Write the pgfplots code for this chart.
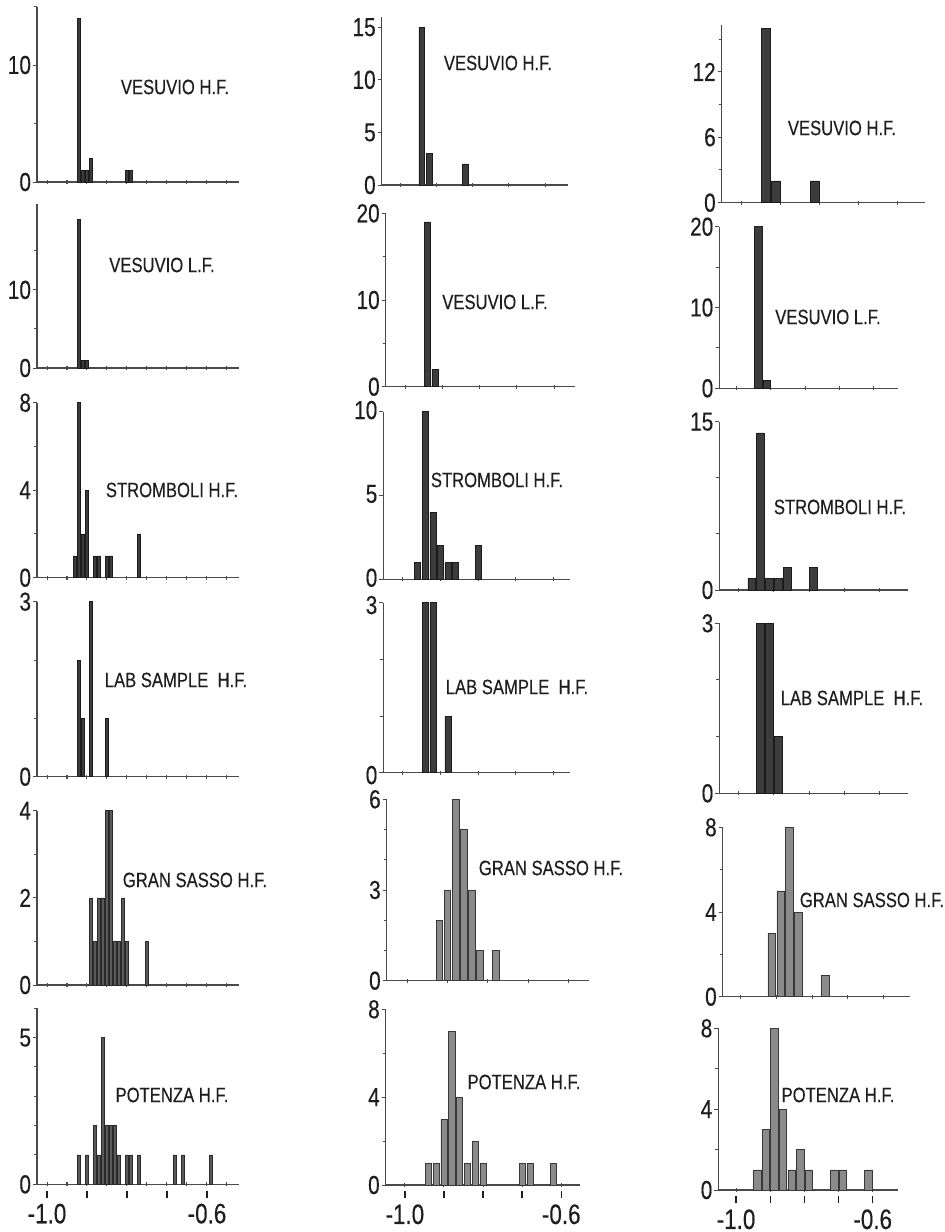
\documentclass[border=0pt]{standalone}
\usepackage{pgfplots}
\pgfplotsset{compat=1.18}
\usepackage{fontspec}
\setmainfont[FakeStretch=0.8, FakeBold=0.35]{Liberation Sans}
\definecolor{dbar}{HTML}{3C3C3C}
\definecolor{dedge}{HTML}{1C1C1C}
\definecolor{mbar}{HTML}{5A5A5A}
\definecolor{medge}{HTML}{2A2A2A}
\definecolor{lbar}{HTML}{8A8A8A}
\definecolor{ledge}{HTML}{383838}
\definecolor{axc}{HTML}{4A4A4A}
\definecolor{txt}{HTML}{1E1E1E}
\newcommand\ticks{\fontsize{13}{13}\selectfont}
\newcommand\lbl{\fontsize{10.4}{11}\selectfont}
\newcommand\xlf{\fontsize{14}{14}\selectfont}
\newcommand\mk{\rule{0.7pt}{3.5pt}}
\newcommand\lab[1]{\shortstack{\mk\\#1}}
\pgfplotsset{
 panel/.style={scale only axis, anchor=south west, ybar, enlargelimits=false, ymin=0,
   axis x line=bottom, axis y line=left,
   axis line style={-, draw=axc, line width=0.6pt},
   every outer x axis line/.append style={-}, every outer y axis line/.append style={-},
   every inner x axis line/.append style={-}, every inner y axis line/.append style={-},
   tick style={draw=axc, line width=0.5pt},
   xtick align=center, ytick align=outside,
   major tick length=2pt, minor tick length=1.5pt,
   yticklabel style={font=\ticks, inner sep=0.8pt, text=txt},
   xticklabel style={font=\xlf, inner sep=2pt, text=txt},
   /pgf/number format/assume math mode=true,
   xticklabels={},
 },
 c1/.style={panel, xmin=-1.025, xmax=-0.52, width=101pt,
   xtick={-1,-0.95,-0.9,-0.85,-0.8,-0.75,-0.7,-0.65,-0.6,-0.55}, bar width=0.0085},
 c2/.style={panel, xtick={-1,-0.9,-0.8,-0.7,-0.6}, bar width=0.016},
 c3/.style={panel, xtick={-1,-0.9,-0.8,-0.7,-0.6}, bar width=0.022},
 dk/.style={fill=dbar, draw=dedge, line width=0.3pt},
 md/.style={fill=mbar, draw=medge, line width=0.3pt},
 lt/.style={fill=lbar, draw=ledge, line width=0.3pt},
}
\begin{document}
\begin{tikzpicture}
\useasboundingbox (0pt,0pt) rectangle (472.5pt,-616pt);
% ---------------- column 1 ----------------
\begin{axis}[c1, at={(18.5pt,-91pt)}, height=87.75pt, ymax=15, ytick={0,10}, minor ytick={5,15}]
\addplot[dk] coordinates {(-0.92,14) (-0.91,1) (-0.90,1) (-0.89,2) (-0.80,1) (-0.79,1)};
\end{axis}
\begin{axis}[c1, at={(18.5pt,-184pt)}, height=82pt, ymax=21, ytick={0,10}, minor ytick={5,15}]
\addplot[dk] coordinates {(-0.92,19) (-0.91,1) (-0.90,1)};
\end{axis}
\begin{axis}[c1, at={(18.5pt,-288.85pt)}, height=87.5pt, ymax=8, ytick={0,4,8}, minor ytick={2,6}]
\addplot[dk] coordinates {(-0.93,1) (-0.92,8) (-0.91,2) (-0.90,4) (-0.88,1) (-0.87,1) (-0.85,1) (-0.84,1) (-0.77,2)};
\end{axis}
\begin{axis}[c1, at={(18.5pt,-388.35pt)}, height=87.5pt, ymax=3, ytick={0,3}, minor ytick={1,2}]
\addplot[dk] coordinates {(-0.92,2) (-0.91,1) (-0.89,3) (-0.85,1)};
\end{axis}
\begin{axis}[c1, at={(18.5pt,-492.5pt)}, height=87.15pt, ymax=4, ytick={0,2,4}, minor ytick={1,3}]
\addplot[md] coordinates {(-0.89,2) (-0.88,1) (-0.87,2) (-0.86,2) (-0.85,4) (-0.84,4) (-0.83,1) (-0.82,1) (-0.81,2) (-0.80,1) (-0.75,1)};
\end{axis}
\begin{axis}[c1, at={(18.5pt,-592.15pt)}, height=88pt, ymax=6, ytick={0,5}, minor ytick={1,2,3,4,6},
  xticklabels={\lab{-1.0},,\mk,,\mk,,\mk,,\lab{-0.6},}]
\addplot[md] coordinates {(-0.92,1) (-0.90,1) (-0.88,2) (-0.87,1) (-0.86,5) (-0.85,2) (-0.84,2) (-0.83,2) (-0.82,1) (-0.80,1) (-0.79,1) (-0.77,1) (-0.68,1) (-0.66,1) (-0.59,1)};
\end{axis}
% ---------------- column 2 ----------------
\begin{axis}[c2, at={(190.85pt,-92.5pt)}, width=93.3pt, height=84.15pt, xmin=-1.0504, xmax=-0.5364, ymax=16, ytick={0,5,10,15}]
\addplot[dk] coordinates {(-0.94,15) (-0.92,3) (-0.82,2)};
\end{axis}
\begin{axis}[c2, at={(192.85pt,-193.35pt)}, width=94.65pt, height=86.7pt, xmin=-1.052, xmax=-0.544, ymax=20, ytick={0,10,20}, minor ytick={5,15}]
\addplot[dk] coordinates {(-0.94,19) (-0.92,2)};
\end{axis}
\begin{axis}[c2, at={(191.65pt,-289.65pt)}, width=93.35pt, height=83.8pt, xmin=-1.0515, xmax=-0.556, ymax=10, ytick={0,5,10},
  yticklabel style={yshift=0.8pt}]
\addplot[dk] coordinates {(-0.96,1) (-0.94,10) (-0.92,4) (-0.90,2) (-0.88,1) (-0.86,1) (-0.80,2)};
\end{axis}
\begin{axis}[c2, at={(191.65pt,-386.35pt)}, width=93.35pt, height=85pt, xmin=-1.0515, xmax=-0.556, ymax=3, ytick={0,3}, minor ytick={1,2},
  yticklabel style={yshift=-1.2pt}]
\addplot[dk] coordinates {(-0.94,3) (-0.92,3) (-0.88,1)};
\end{axis}
\begin{axis}[c2, at={(193.35pt,-490.35pt)}, width=101.3pt, height=90.7pt, xmin=-1.051, xmax=-0.548, ymax=6, ytick={0,3,6}, minor ytick={1,2,4,5}]
\addplot[lt] coordinates {(-0.92,2) (-0.90,3) (-0.88,6) (-0.86,5) (-0.84,3) (-0.82,1) (-0.78,1)};
\end{axis}
\begin{axis}[c2, at={(192.85pt,-592.5pt)}, width=97.15pt, height=87.85pt, xmin=-1.049, xmax=-0.552, ymax=8, ytick={0,4,8}, minor ytick={2,6},
  xticklabels={\lab{-1.0},\mk,\mk,\mk,\lab{-0.6}}]
\addplot[lt] coordinates {(-0.94,1) (-0.92,1) (-0.90,3) (-0.88,7) (-0.86,4) (-0.84,1) (-0.82,2) (-0.80,1) (-0.70,1) (-0.68,1) (-0.62,1)};
\end{axis}
% ---------------- column 3 ----------------
\begin{axis}[c3, at={(360.85pt,-101.35pt)}, width=101.65pt, height=88.85pt, xmin=-1.051, xmax=-0.53, ymax=16.3, ytick={0,6,12}, minor ytick={3,9,15}]
\addplot[dk] coordinates {(-0.9375,16) (-0.9125,2) (-0.8125,2)};
\end{axis}
\begin{axis}[c3, at={(359.65pt,-194.15pt)}, width=89.5pt, height=80.8pt, xmin=-1.051, xmax=-0.527, ymax=20, ytick={0,10,20}, minor ytick={5,15}]
\addplot[dk] coordinates {(-0.9375,20) (-0.9125,1)};
\end{axis}
\begin{axis}[c3, at={(359.65pt,-295pt)}, width=94.5pt, height=84.15pt, xmin=-1.054, xmax=-0.52, ymax=15, ytick={0,15}, minor ytick={5,10}]
\addplot[dk] coordinates {(-0.9625,1) (-0.9375,14) (-0.9125,1) (-0.8875,1) (-0.8625,2) (-0.7875,2)};
\end{axis}
\begin{axis}[c3, at={(359.65pt,-396.65pt)}, width=94.5pt, height=85pt, xmin=-1.054, xmax=-0.52, ymax=3, ytick={0,3}, minor ytick={1,2}]
\addplot[dk] coordinates {(-0.9375,3) (-0.9125,3) (-0.8875,1)};
\end{axis}
\begin{axis}[c3, at={(361.35pt,-498.35pt)}, width=93.65pt, height=84.7pt, xmin=-1.05, xmax=-0.526, ymax=8, ytick={0,4,8}, minor ytick={2,6}]
\addplot[lt] coordinates {(-0.9125,3) (-0.8875,5) (-0.8625,8) (-0.8375,4) (-0.7625,1)};
\end{axis}
\begin{axis}[c3, at={(359.15pt,-595pt)}, width=90pt, height=80.85pt, xmin=-1.052, xmax=-0.525, ymax=8, ytick={0,4,8}, minor ytick={2,6},
  xticklabels={\lab{-1.0},\mk,\mk,\mk,\lab{-0.6}}]
\addplot[lt] coordinates {(-0.9375,1) (-0.9125,3) (-0.8875,8) (-0.8625,4) (-0.8375,1) (-0.8125,2) (-0.7875,1) (-0.7125,1) (-0.6875,1) (-0.6125,1)};
\end{axis}
% ---------------- panel labels ----------------
\begin{scope}[every node/.style={font=\lbl, text=txt, inner sep=0pt}]
\node at (87.5pt,-43.5pt) {VESUVIO H.F.};
\node at (81pt,-132.5pt) {VESUVIO L.F.};
\node at (86pt,-245pt) {STROMBOLI H.F.};
\node at (88pt,-340pt) {LAB SAMPLE\ \ H.F.};
\node at (97.5pt,-440pt) {GRAN SASSO H.F.};
\node at (86pt,-547.5pt) {POTENZA H.F.};
\node at (249pt,-31.5pt) {VESUVIO H.F.};
\node at (247.5pt,-151pt) {VESUVIO L.F.};
\node at (248.5pt,-240pt) {STROMBOLI H.F.};
\node at (258.5pt,-343.5pt) {LAB SAMPLE\ \ H.F.};
\node at (275.5pt,-434pt) {GRAN SASSO H.F.};
\node at (262pt,-541pt) {POTENZA H.F.};
\node at (421pt,-64pt) {VESUVIO H.F.};
\node at (414pt,-158.5pt) {VESUVIO L.F.};
\node at (420pt,-253.5pt) {STROMBOLI H.F.};
\node at (426pt,-349pt) {LAB SAMPLE\ \ H.F.};
\node at (436pt,-450pt) {GRAN SASSO H.F.};
\node at (419pt,-547.5pt) {POTENZA H.F.};
\end{scope}
\end{tikzpicture}
\end{document}
